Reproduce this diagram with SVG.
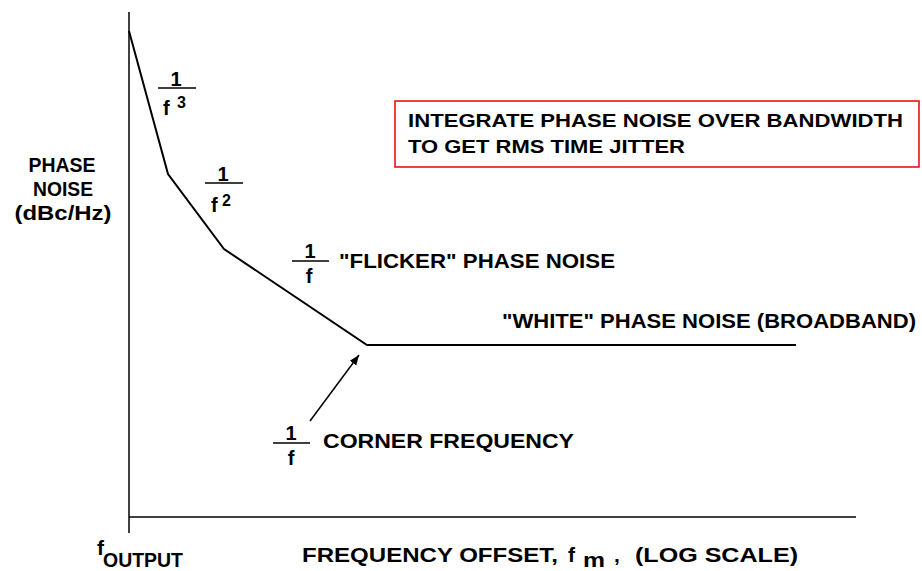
<svg xmlns="http://www.w3.org/2000/svg" width="922" height="571" viewBox="0 0 922 571">
<style>
text{font-family:"Liberation Sans",Arial,sans-serif;font-weight:bold;fill:#000}
.t{font-size:21px}
.fr{font-size:20px}
.sup{font-size:16px}
.yl{font-size:21px}
.ax{stroke:#000;stroke-width:1.5;fill:none}
.cv{stroke:#000;stroke-width:2;fill:none;stroke-linejoin:miter}
.bar{stroke:#000;stroke-width:1.5}
</style>
<defs>
<marker id="ah" viewBox="0 0 10 10" refX="10" refY="5" markerWidth="10" markerHeight="10" markerUnits="userSpaceOnUse" orient="auto">
<path d="M0,1 L10,5 L0,9 Z" fill="#000"/>
</marker>
</defs>
<rect width="922" height="571" fill="#fff"/>

<g id="axes">
<line class="ax" x1="129" y1="12" x2="129" y2="533"/>
<line class="ax" x1="129" y1="517" x2="856" y2="517"/>
</g>

<g id="connectors">
<polyline class="cv" points="129,31 168,174 224,249 367,345 796,345"/>
<line x1="310" y1="421" x2="359" y2="355" stroke="#000" stroke-width="1.5" marker-end="url(#ah)"/>
</g>

<g id="note">
<rect x="395" y="101" width="524" height="66" fill="#fff" stroke="#e00" stroke-width="1.5"/>
<text x="408" y="127" textLength="495" lengthAdjust="spacingAndGlyphs" style="font-size:19px">INTEGRATE PHASE NOISE OVER BANDWIDTH</text>
<text x="408" y="153" textLength="277" lengthAdjust="spacingAndGlyphs" style="font-size:19px">TO GET RMS TIME JITTER</text>
</g>

<g id="ylabel">
<text class="yl" x="62" y="172" text-anchor="middle" textLength="67" lengthAdjust="spacingAndGlyphs">PHASE</text>
<text class="yl" x="63" y="196" text-anchor="middle" textLength="60" lengthAdjust="spacingAndGlyphs">NOISE</text>
<text class="yl" x="63" y="220" text-anchor="middle" textLength="97" lengthAdjust="spacingAndGlyphs">(dBc/Hz)</text>
</g>

<g id="f3">
<text class="fr" x="176" y="86" text-anchor="middle">1</text>
<line class="bar" x1="158" y1="88" x2="196" y2="88"/>
<text class="fr" x="163" y="115">f</text>
<text class="sup" x="177" y="108">3</text>
</g>

<g id="f2">
<text class="fr" x="223" y="181" text-anchor="middle">1</text>
<line class="bar" x1="205" y1="183" x2="243" y2="183"/>
<text class="fr" x="211" y="212">f</text>
<text class="sup" x="222" y="206">2</text>
</g>

<g id="flicker">
<text class="fr" x="310" y="258" text-anchor="middle">1</text>
<line class="bar" x1="292" y1="261" x2="329" y2="261"/>
<text class="fr" x="309" y="283" text-anchor="middle">f</text>
<text class="t" x="339" y="268" textLength="276" lengthAdjust="spacingAndGlyphs">"FLICKER" PHASE NOISE</text>
</g>

<g id="white">
<text class="t" x="502" y="328" textLength="414" lengthAdjust="spacingAndGlyphs">"WHITE" PHASE NOISE (BROADBAND)</text>
</g>

<g id="corner">
<text class="fr" x="291" y="440" text-anchor="middle">1</text>
<line class="bar" x1="273" y1="443" x2="310" y2="443"/>
<text class="fr" x="291" y="465" text-anchor="middle">f</text>
<text class="t" x="323" y="448" textLength="251" lengthAdjust="spacingAndGlyphs">CORNER FREQUENCY</text>
</g>

<g id="foutput">
<text x="97" y="555" style="font-size:21px">f</text>
<text x="103" y="567" style="font-size:20px" textLength="80" lengthAdjust="spacingAndGlyphs">OUTPUT</text>
</g>

<g id="xlabel">
<text class="t" x="302" y="562" textLength="256" lengthAdjust="spacingAndGlyphs">FREQUENCY OFFSET,</text>
<text class="t" x="568" y="562">f</text>
<text x="583" y="567" style="font-size:20px" textLength="22" lengthAdjust="spacingAndGlyphs">m</text>
<text class="t" x="614" y="562">,</text>
<text class="t" x="635" y="562" textLength="163" lengthAdjust="spacingAndGlyphs">(LOG SCALE)</text>
</g>
</svg>
